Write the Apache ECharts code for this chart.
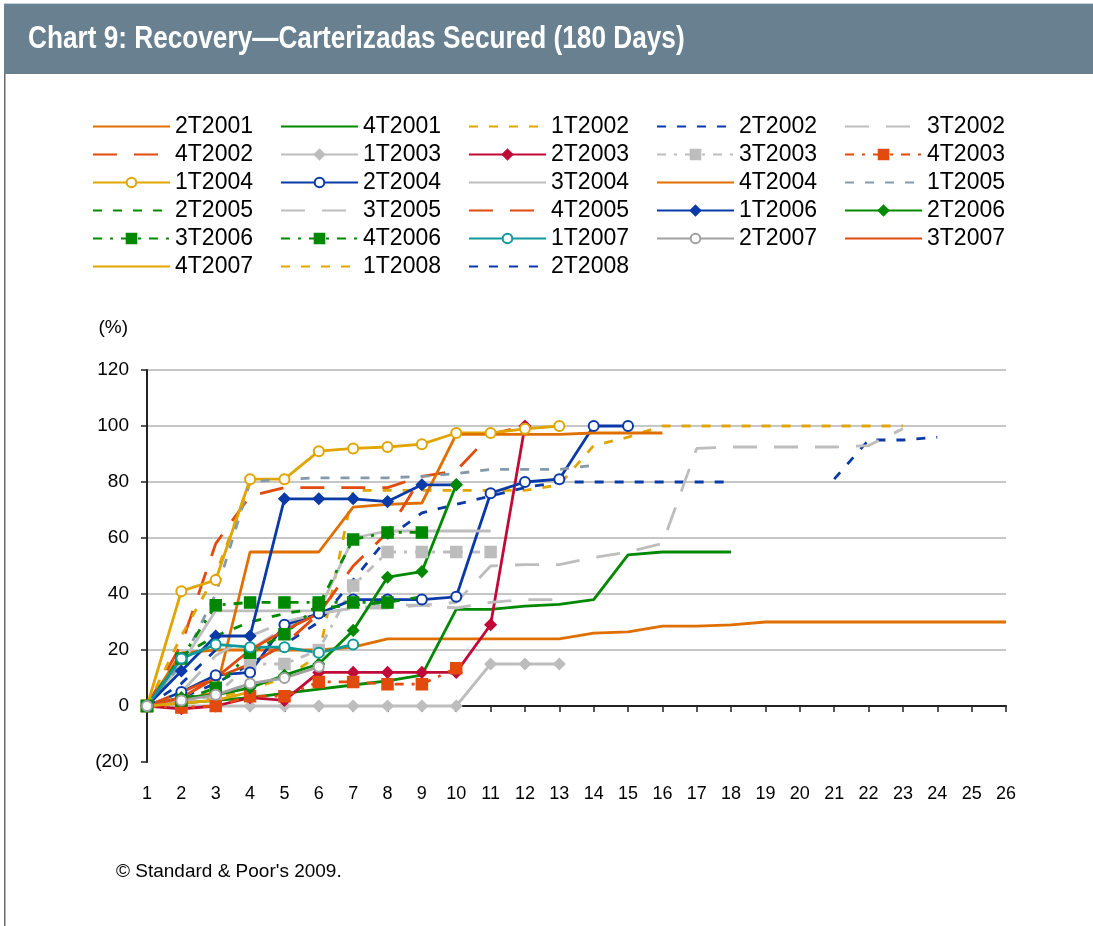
<!DOCTYPE html>
<html>
<head>
<meta charset="utf-8">
<title>Chart 9: Recovery</title>
<script src="https://cdn.jsdelivr.net/npm/echarts@6/dist/echarts.min.js"></script>
<style>
html, body { margin: 0; padding: 0; background: #fff; }
#chart { width: 1093px; height: 926px; }
</style>
</head>
<body>
<div id="chart"></div>
<script>
// periods after default (quarters), x axis labels
var periods = ['1','2','3','4','5','6','7','8','9','10','11','12','13','14','15','16','17','18','19','20','21','22','23','24','25','26'];

// recovery rate (%) per vintage
var s2T2001 = [0, 19, 20, 20, 20, 20, 21, 24, 24, 24, 24, 24, 24, 26, 26.5, 28.5, 28.5, 29, 30, 30, 30, 30, 30, 30, 30, 30];
var s4T2001 = [0, 1, 2, 3, 4.5, 6, 7.5, 9, 11, 34.5, 34.5, 35.7, 36.3, 38, 54, 55, 55, 55];
var s1T2002 = [0, 1, 3, 6, 10, 18, 77, 77, 77, 77, 77, 77, 79, 93, 96, 100, 100, 100, 100, 100, 100, 100, 100];
var s2T2002 = [0, 3, 8, 15, 22, 30, 45, 60, 69, 72, 75, 78, 80, 80, 80, 80, 80, 80, null, null, 81, 95, 95, 96];
var s3T2002 = [0, 3, 10, 20, 28, 33, 35, 35, 36, 37, 50, 50.5, 50.5, 53, 55, 58, 92, 92.5, 92.5, 92.5, 92.5, 93, 99];
var s4T2002 = [0, 22, 58, 75, 78, 78, 78, 78, 82, 84, 97, 100];
var s1T2003 = [0, 0, 0, 0, 0, 0, 0, 0, 0, 0, 15, 15, 15];
var s2T2003 = [0, -1, 0, 3, 2, 12, 12, 12, 12, 12, 29, 100];
var s3T2003 = [0, 1, 4, 15, 15, 20, 43, 55, 55, 55, 55];
var s4T2003 = [0, -0.5, 0, 3.5, 3.5, 8.6, 8.6, 7.8, 7.8, 13.5];
var s1T2004 = [0, 41, 45, 81, 81, 91, 92, 92.5, 93.5, 97.5, 97.5, 99, 100];
var s2T2004 = [0, 5, 11, 12, 29, 33, 38, 38, 38, 39, 76, 80, 81, 100, 100];
var s3T2004 = [0, 15, 34, 34, 34, 34, 60, 62.5, 62.5, 62.5, 62.5];
var s4T2004 = [0, 2, 5, 55, 55, 55, 71, 72, 72.5, 97, 97, 97, 97, 97.5, 97.5, 97.5];
var s1T2005 = [0, 15, 40, 80, 81, 81.5, 81.5, 81.5, 82, 83, 84.5, 84.5, 84.5, 86];
var s2T2005 = [0, 18, 25, 30, 33, 35, 36, 37, 39];
var s3T2005 = [0, 5, 18, 25, 30, 33, 35, 36, 36, 35, 37, 38, 38];
var s4T2005 = [0, 5, 10, 15, 22, 33, 50, 62, 82];
var s1T2006 = [0, 12.5, 25, 25, 74, 74, 74, 73, 79, 79];
var s2T2006 = [0, 3, 4, 6.5, 11, 15, 27, 46, 48, 79];
var s3T2006 = [0, 17, 36, 37, 37, 37, 37, 37];
var s4T2006 = [0, 2, 6.5, 19, 25.6, 36, 59.5, 62, 62];
var s1T2007 = [0, 17, 22, 21, 21, 19, 22];
var s2T2007 = [0, 2, 4, 8, 10, 14];
var s3T2007 = [0, 3, 10, 20, 27, 33];
var s4T2007 = [0, 1, 2, 5];
var s1T2008 = [0, 25, 47, 80];
var s2T2008 = [0, 8, 20];

var orange = '#DF7000', green = '#008800', gold = '#E1A500', blue = '#0A3AA8',
    lgray = '#BDBDBD', red = '#E24A0E', crimson = '#C00A38', slate = '#8499AA',
    teal = '#0E9A9A', dgray = '#A0A0A0';
var shortDash = [9, 11], longDash = [24, 17], dashDot = [9, 8, 3, 8];
var labelFont = 'Liberation Sans, Arial, sans-serif';

function mk(name, data, color, dash, symbol, size) {
    return {
        name: name,
        type: 'line',
        data: data,
        symbol: symbol || 'none',
        symbolSize: size || 10,
        connectNulls: false,
        lineStyle: { color: color, width: 2.8, type: dash || 'solid' },
        itemStyle: { color: color, borderColor: color, borderWidth: 1.5 },
        emphasis: { disabled: true }
    };
}

var series = [
    mk('2T2001', s2T2001, orange),
    mk('4T2001', s4T2001, green),
    mk('1T2002', s1T2002, gold, shortDash),
    mk('2T2002', s2T2002, blue, shortDash),
    mk('3T2002', s3T2002, lgray, longDash),
    mk('4T2002', s4T2002, red, longDash),
    mk('1T2003', s1T2003, lgray, null, 'diamond', 11),
    mk('2T2003', s2T2003, crimson, null, 'diamond', 11),
    mk('3T2003', s3T2003, lgray, dashDot, 'rect', 11),
    mk('4T2003', s4T2003, red, dashDot, 'rect', 11),
    mk('1T2004', s1T2004, gold, null, 'emptyCircle', 10),
    mk('2T2004', s2T2004, blue, null, 'emptyCircle', 10),
    mk('3T2004', s3T2004, lgray),
    mk('4T2004', s4T2004, orange),
    mk('1T2005', s1T2005, slate, shortDash),
    mk('2T2005', s2T2005, green, shortDash),
    mk('3T2005', s3T2005, lgray, longDash),
    mk('4T2005', s4T2005, red, longDash),
    mk('1T2006', s1T2006, blue, null, 'diamond', 11),
    mk('2T2006', s2T2006, green, null, 'diamond', 11),
    mk('3T2006', s3T2006, green, dashDot, 'rect', 11),
    mk('4T2006', s4T2006, green, dashDot, 'rect', 11),
    mk('1T2007', s1T2007, teal, null, 'emptyCircle', 10),
    mk('2T2007', s2T2007, dgray, null, 'emptyCircle', 10),
    mk('3T2007', s3T2007, red),
    mk('4T2007', s4T2007, gold),
    mk('1T2008', s1T2008, gold, shortDash),
    mk('2T2008', s2T2008, blue, shortDash)
];

var gridColors = ['rgba(0,0,0,0)', 'rgba(0,0,0,0)', '#B4B4B4', '#B4B4B4', '#B4B4B4', '#B4B4B4', '#B4B4B4', '#B4B4B4'];

var myChart = echarts.init(document.getElementById('chart'));
option = {
    animation: false,
    backgroundColor: '#fff',
    graphic: [
        { type: 'rect', left: 4, top: 3, shape: { width: 1089, height: 1 }, style: { fill: '#C9D2D8' }, z: -1 },
        { type: 'rect', left: 4, top: 4, shape: { width: 1089, height: 70 }, style: { fill: '#68808F' }, z: -1 },
        { type: 'rect', left: 4, top: 74, shape: { width: 1.5, height: 852 }, style: { fill: '#6A6A6A' }, z: -1 },
        {
            type: 'text', x: 28, y: 24, scaleX: 0.845, originX: 0,
            style: { text: 'Chart 9: Recovery\u2014Carterizadas Secured (180 Days)', fill: '#fff', font: 'bold 31px "Liberation Sans", Arial, sans-serif' }
        },
        { type: 'text', left: 116, top: 862, style: { text: '\u00A9 Standard & Poor\'s 2009.', fill: '#000', font: '19px "Liberation Sans", Arial, sans-serif' } }
    ],
    legend: {
        left: 87,
        top: 110,
        width: 935,
        itemWidth: 77,
        itemHeight: 12,
        itemGap: 5,
        textStyle: {
            color: '#000',
            fontFamily: labelFont,
            fontSize: 23,
            width: 100,
            lineHeight: 22
        },
        data: series.map(function (s) {
            return s.symbol === 'none' ? { name: s.name, itemStyle: { opacity: 0 } } : { name: s.name };
        })
    },
    grid: { left: 147, right: 87, top: 370, bottom: 164 },
    xAxis: [{
        type: 'category',
        data: periods,
        boundaryGap: false,
        axisLine: { show: false },
        axisTick: { show: false },
        axisLabel: { color: '#000', fontSize: 18, fontFamily: labelFont, margin: 23, interval: 0 }
    }, {
        type: 'category',
        data: periods,
        boundaryGap: false,
        position: 'bottom',
        offset: -56,
        axisLine: { show: true, lineStyle: { color: '#222', width: 2 } },
        axisTick: { show: true, length: 6, lineStyle: { color: '#222', width: 1.5 }, interval: 0, alignWithLabel: true },
        axisLabel: { show: false }
    }],
    yAxis: {
        type: 'value',
        min: -20,
        max: 120,
        interval: 20,
        name: '(%)',
        nameLocation: 'end',
        nameGap: 33,
        nameTextStyle: { color: '#000', fontSize: 19, fontFamily: labelFont, align: 'right', verticalAlign: 'bottom', padding: [0, 19, 0, 0] },
        axisLine: { show: true, lineStyle: { color: '#222', width: 2 } },
        axisTick: { show: true, length: 6, lineStyle: { color: '#222', width: 1.5 } },
        axisLabel: {
            color: '#000', fontSize: 19, fontFamily: labelFont, margin: 18,
            formatter: function (v) { return v < 0 ? '(' + (-v) + ')' : String(v); }
        },
        splitLine: { show: true, lineStyle: { color: gridColors, width: 1.5 } }
    },
    series: series
};
myChart.setOption(option);
</script>
</body>
</html>
